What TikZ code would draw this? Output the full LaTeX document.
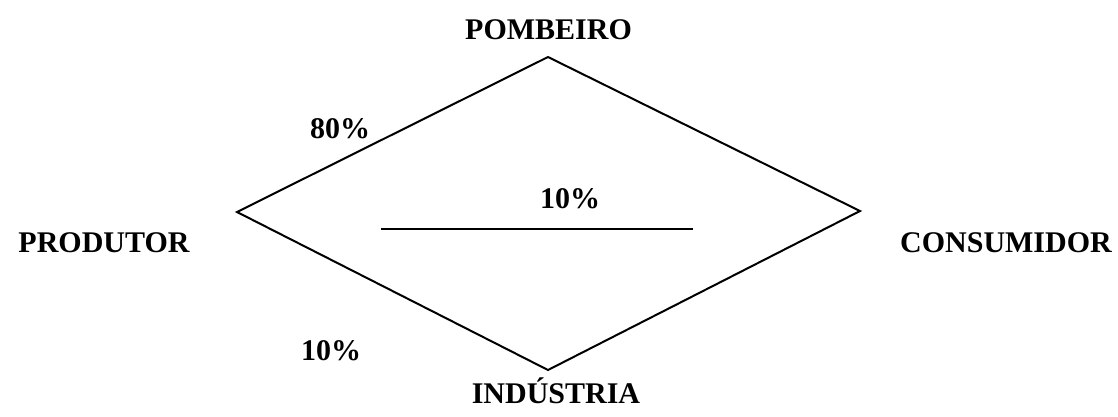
\documentclass[tikz,border=0pt]{standalone}
\usepackage{fontspec}
\setmainfont{Liberation Serif}
\begin{document}
\begin{tikzpicture}[x=1pt,y=-1pt,
  lbl/.style={font=\fontsize{30}{30}\selectfont\bfseries, anchor=base, inner sep=0pt},
  pct/.style={font=\fontsize{30}{30}\selectfont\bfseries, anchor=base, inner sep=0pt},
  edge/.style={line width=2pt, line join=miter}]
\useasboundingbox (0,0) rectangle (1118,416);
\coordinate (T) at (548,57);
\coordinate (L) at (237,212);
\coordinate (R) at (860,211);
\coordinate (B) at (548,370);
\coordinate (m1) at (381,229);
\coordinate (m2) at (693,229);
\draw[edge] (L) -- (T) -- (R) -- (B) -- cycle;
\draw[edge] (m1) -- (m2);
\node[lbl] (pomb) at (548.5,39) {POMBEIRO};
\node[lbl] (prod) at (104,252) {PRODUTOR};
\node[lbl] (cons) at (1006,252) {CONSUMIDOR};
\node[lbl] (ind) at (556,403) {INDÚSTRIA};
\node[pct] (p80) at (340,138) {80\%};
\node[pct] (p10a) at (570,208) {10\%};
\node[pct] (p10b) at (331,360) {10\%};
\end{tikzpicture}
\end{document}
